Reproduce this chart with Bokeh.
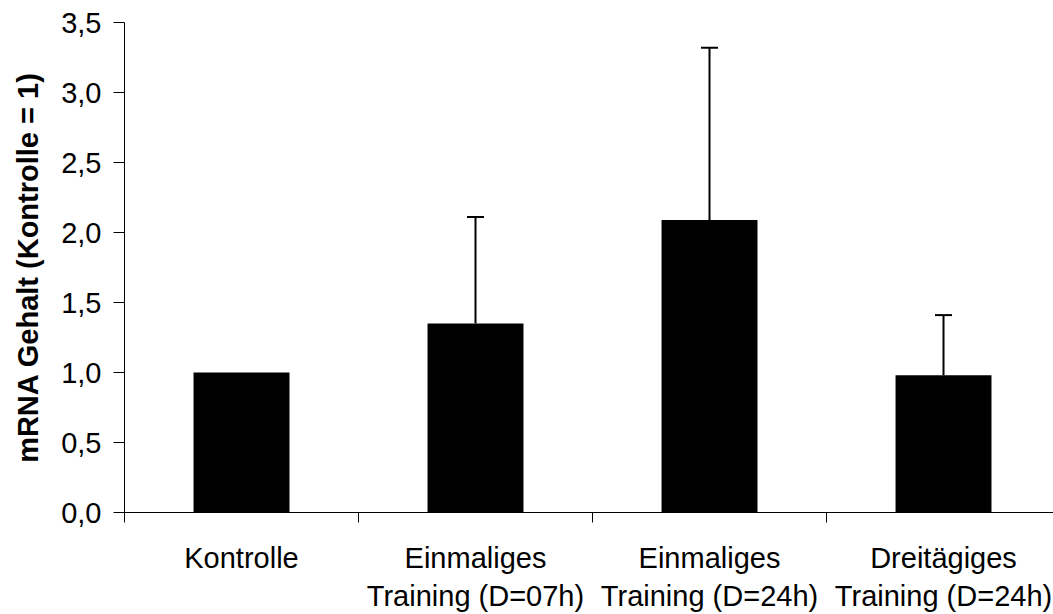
from bokeh.plotting import figure
from bokeh.models import Range1d, FixedTicker, Whisker, TeeHead, ColumnDataSource
from bokeh.embed import file_html
from bokeh.resources import INLINE

categories = ["Kontrolle", "Einmaliges\nTraining (D=07h)", "Einmaliges\nTraining (D=24h)", "Dreitägiges\nTraining (D=24h)"]
means = [1.00, 1.35, 2.09, 0.98]
errors = [0.00, 0.76, 1.23, 0.43]
y_ticks = [0.0, 0.5, 1.0, 1.5, 2.0, 2.5, 3.0, 3.5]
y_tick_labels = ["0,0", "0,5", "1,0", "1,5", "2,0", "2,5", "3,0", "3,5"]
y_label = "mRNA Gehalt (Kontrolle = 1)"

FONT = "Liberation Sans"

n = len(categories)
xc = [i + 0.5 for i in range(n)]

p = figure(width=1053, height=614, output_backend="svg", toolbar_location=None,
           x_range=Range1d(0, 3.97), y_range=Range1d(0, 3.5),
           min_border_left=124, min_border_right=0, min_border_top=22, min_border_bottom=100)
p.outline_line_color = None
p.xgrid.visible = False
p.ygrid.visible = False
p.background_fill_color = "white"
p.border_fill_color = "white"

p.vbar(x=xc, top=means, bottom=0, width=0.41, fill_color="black", line_color=None)

ex = [x for x, e in zip(xc, errors) if e > 0]
em = [m for m, e in zip(means, errors) if e > 0]
eu = [m + e for m, e in zip(means, errors) if e > 0]
src = ColumnDataSource(dict(x=ex, lower=em, upper=eu))
w = Whisker(source=src, base="x", lower="lower", upper="upper",
            line_color="black", line_width=2,
            lower_head=None, upper_head=TeeHead(size=17, line_color="black", line_width=2))
p.add_layout(w)

# x axis: labels at centres, boundary ticks as minor ticks
xa = p.xaxis[0]
xa.ticker = FixedTicker(ticks=xc, minor_ticks=list(range(n + 1)))
xa.major_label_overrides = {x: c for x, c in zip(xc, categories)}
xa.major_tick_out = 0
xa.major_tick_in = 0
xa.minor_tick_out = 10
xa.minor_tick_in = 0
xa.minor_tick_line_color = "black"
xa.axis_line_color = "black"
xa.major_label_text_font = FONT
xa.major_label_text_font_size = "29px"
xa.major_label_text_color = "black"
xa.major_label_standoff = 19

ya = p.yaxis[0]
ya.ticker = FixedTicker(ticks=y_ticks, minor_ticks=[])
ya.major_label_overrides = {t: l for t, l in zip(y_ticks, y_tick_labels)}
ya.major_tick_out = 11
ya.major_tick_in = 0
ya.axis_line_color = "black"
ya.major_tick_line_color = "black"
ya.major_label_text_font = FONT
ya.major_label_text_font_size = "29px"
ya.major_label_text_color = "black"
ya.major_label_standoff = 12
ya.axis_label = y_label
ya.axis_label_text_font = FONT
ya.axis_label_text_font_size = "29px"
ya.axis_label_text_font_style = "bold"
ya.axis_label_text_color = "black"
ya.axis_label_standoff = 14

open("out.html", "w").write(file_html(p, INLINE))
